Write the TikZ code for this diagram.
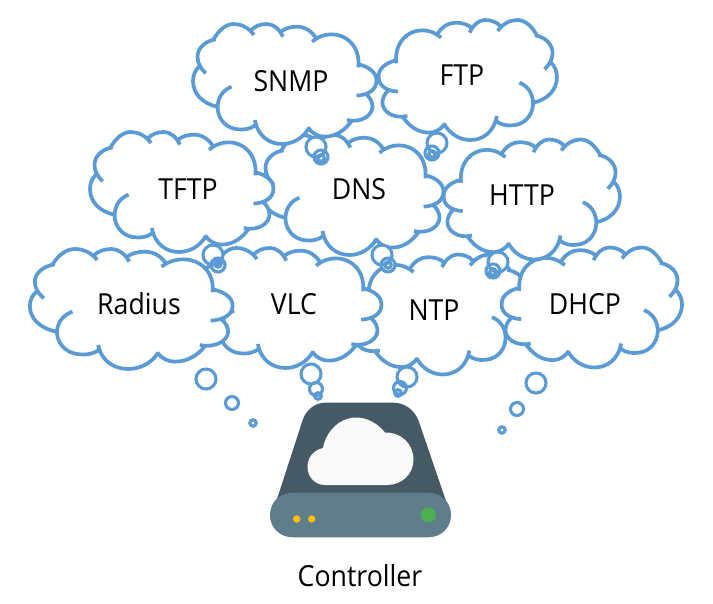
\documentclass[tikz,border=0pt]{standalone}
\usepackage{fontspec}
\setmainfont[FakeStretch=0.92]{Open Sans}
\definecolor{cloudblue}{HTML}{5B9BD5}
\definecolor{devdark}{HTML}{455A64}
\definecolor{devbase}{HTML}{607D8B}
\definecolor{devcloud}{HTML}{FAFAFA}
\definecolor{devyellow}{HTML}{FFC107}
\definecolor{devgreen}{HTML}{4CAF50}
\def\bA{(110,305) .. controls (60,295) and (30,265) .. (30,228) .. controls (30,210) and (38,195) .. (50,185)}
\def\bB{(72,205) .. controls (55,190) and (45,175) .. (45,155) .. controls (45,130) and (70,108) .. (105,103)}
\def\bC{(97,105) .. controls (115,75) and (140,57) .. (165,57) .. controls (190,57) and (215,68) .. (232,90)}
\def\bD{(222,76) .. controls (235,63) and (255,57) .. (275,57) .. controls (295,57) and (315,70) .. (328,95)}
\def\bE{(322,80) .. controls (335,70) and (355,65) .. (375,65) .. controls (400,65) and (425,78) .. (440,103)}
\def\bF{(425,110) .. controls (445,95) and (465,88) .. (490,88) .. controls (540,88) and (585,125) .. (578,187)}
\def\bG{(578,178) .. controls (615,185) and (640,205) .. (638,228) .. controls (638,255) and (610,270) .. (572,272)}
\def\bH{(605,268) .. controls (620,280) and (625,295) .. (625,305) .. controls (625,330) and (590,355) .. (540,345)}
\def\bI{(558,345) .. controls (535,375) and (505,395) .. (465,395) .. controls (445,395) and (425,385) .. (412,368)}
\def\bJ{(415,368) .. controls (395,400) and (360,417) .. (325,417) .. controls (285,417) and (245,395) .. (235,345)}
\def\bK{(238,360) .. controls (220,372) and (200,375) .. (180,373) .. controls (130,370) and (108,330) .. (112,300) .. controls (115,275) and (130,255) .. (158,245)}
\edef\cloudfill{\bA -- \bB -- \bC -- \bD -- \bE -- \bF -- \bG -- \bH -- \bI -- \bJ -- \bK -- cycle}
\edef\cloudlines{\bA \bB \bC \bD \bE \bF \bG \bH \bI \bJ \bK}
% #1 centre x, #2 centre y, #3 horizontal scale (negative = mirrored), #4 vertical scale
\newcommand\thoughtcloud[4]{%
  \begin{scope}[shift={(#1,#2)},xscale=#3/3,yscale=#4/3]
    \begin{scope}[shift={(-335,-237)}]
      \fill[white] \cloudfill;
      \draw[cloudline] \cloudlines;
    \end{scope}
  \end{scope}}
% three bubbles of a tail: all filled first, then all stroked
\newcommand\tailbubbles[9]{%
  \fill[white] (#1,#2) circle[radius=#3] (#4,#5) circle[radius=#6] (#7,#8) circle[radius=#9];
  \draw[bubble] (#1,#2) circle[radius=#3] (#4,#5) circle[radius=#6] (#7,#8) circle[radius=#9];}
\tikzset{
  cloudline/.style={draw=cloudblue,line width=3.7pt},
  bubble/.style={draw=cloudblue,line width=3.1pt},
  lbl/.style={font=\fontsize{29}{32}\selectfont,text=black,inner sep=0pt,anchor=center}
}
\begin{document}
\begin{tikzpicture}[x=1pt,y=-1pt]
\useasboundingbox (0,0) rectangle (713,604);
\fill[white] (0,0) rectangle (713,604);
% clouds, back to front
\thoughtcloud{440}{314.5}{-0.88}{1.0}
\thoughtcloud{288.5}{308}{0.92}{1.0}
\thoughtcloud{131.5}{309}{1.0}{1.0}
\thoughtcloud{591.5}{307.5}{-0.89}{1.0}
\thoughtcloud{531.5}{199.5}{-0.87}{1.0}
\thoughtcloud{352.5}{195}{0.9}{1.0}
\thoughtcloud{182}{192}{0.905}{1.0}
\thoughtcloud{285}{84}{0.905}{1.0}
\thoughtcloud{467.5}{80}{-0.88}{1.0}
% tails
\tailbubbles{206}{379}{10}{232}{403}{6.5}{253}{423}{3.2}
\tailbubbles{311}{374}{10}{316}{389}{6.5}{318}{396}{3.3}
\tailbubbles{407}{377}{10}{400}{388}{6.5}{398}{393}{3.3}
\tailbubbles{536}{383}{10}{517}{409}{6.5}{502}{430}{3.2}
\tailbubbles{213}{255}{10}{218}{265}{7}{218}{264}{3.2}
\tailbubbles{316}{147}{10}{321}{157}{7}{321}{158}{3.3}
\tailbubbles{437}{143}{10}{432}{153}{7}{432}{154}{3.2}
\tailbubbles{498}{262}{10}{493}{271}{7}{493}{272}{3.3}
\tailbubbles{382}{255}{10}{388}{265}{7}{388}{265}{3.2}
% labels
\node[lbl] (snmp) at (291,81) {SNMP};
\node[lbl] (ftp) at (462,75) {FTP};
\node[lbl] (tftp) at (188,189) {TFTP};
\node[lbl] (dns) at (359,189) {DNS};
\node[lbl] (http) at (522,195) {HTTP};
\node[lbl] (radius) at (139,304) {Radius};
\node[lbl] (vlc) at (294,304) {VLC};
\node[lbl] (ntp) at (434,310) {NTP};
\node[lbl] (dhcp) at (585,304) {DHCP};
% controller device
\fill[devdark] (275.7,503) -- (302.7,420) .. controls (306,410) and (315,402.7) .. (325,402.7)
  -- (393.3,402.7) .. controls (405,402.7) and (414,410) .. (418.3,420) -- (446.7,503) -- cycle;
\fill[devbase] (270,515) .. controls (270,502) and (280,492.7) .. (293,492.7) -- (428,492.7)
  .. controls (441,492.7) and (451,502) .. (451,515) .. controls (451,528) and (441,537.3) .. (428,537.3)
  -- (293,537.3) .. controls (280,537.3) and (270,528) .. (270,515) -- cycle;
\fill[devcloud] (325,485) .. controls (315,485) and (307.5,477) .. (307.5,467)
  .. controls (307.5,457) and (314,450) .. (323,448)
  .. controls (326,431) and (340,417.5) .. (356,417.5)
  .. controls (368,417.5) and (378,424) .. (385,432.5)
  .. controls (401,432) and (413.5,444) .. (413.5,459.5)
  .. controls (413.5,474) and (402,485) .. (387,485) -- cycle;
\fill[devyellow] (296.7,519) circle[radius=3.7];
\fill[devyellow] (311.7,519) circle[radius=3.7];
\fill[devgreen] (428.3,515) circle[radius=7.5];
\node[lbl] (controller) at (360,576) {Controller};
\end{tikzpicture}
\end{document}
